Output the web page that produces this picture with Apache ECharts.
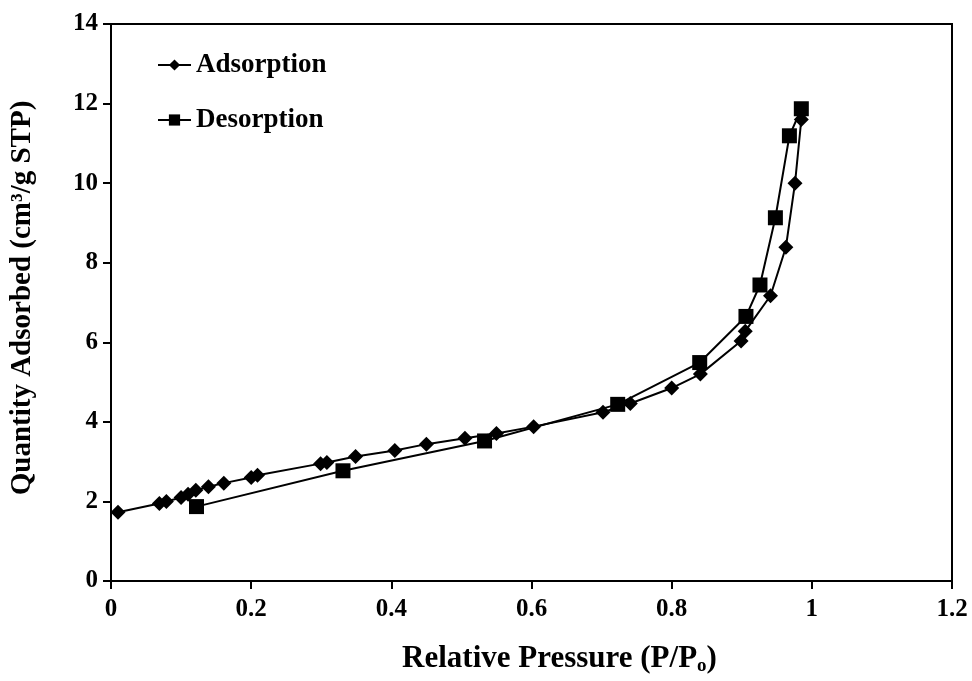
<!DOCTYPE html>
<html>
<head>
<meta charset="utf-8">
<script src="https://cdn.jsdelivr.net/npm/echarts@6/dist/echarts.min.js"></script>
<style>
  html, body { margin: 0; padding: 0; background: #ffffff; }
  #chart { width: 972px; height: 681px; }
</style>
</head>
<body>
<div id="chart"></div>
<script>
// Nitrogen isotherm: relative pressure vs. quantity adsorbed
const adsorptionP = [0.010, 0.069, 0.079, 0.100, 0.110, 0.121, 0.139, 0.161, 0.200, 0.209,
                     0.299, 0.308, 0.349, 0.405, 0.450, 0.505, 0.550, 0.603, 0.702, 0.741,
                     0.800, 0.841, 0.899, 0.905, 0.941, 0.963, 0.976, 0.985];
const adsorptionQ = [1.73, 1.95, 2.00, 2.10, 2.18, 2.28, 2.37, 2.46, 2.60, 2.66,
                     2.95, 2.98, 3.13, 3.28, 3.44, 3.59, 3.71, 3.88, 4.24, 4.46,
                     4.85, 5.20, 6.03, 6.28, 7.17, 8.39, 10.00, 11.60];

const desorptionP = [0.985, 0.968, 0.948, 0.926, 0.906, 0.840, 0.723, 0.533, 0.331, 0.122];
const desorptionQ = [11.87, 11.19, 9.13, 7.44, 6.65, 5.49, 4.44, 3.52, 2.77, 1.87];

const xTicks = { min: 0, max: 1.2, step: 0.2 };
const yTicks = { min: 0, max: 14, step: 2 };

const seriesNames = ['Adsorption', 'Desorption'];
const xTitle = 'Relative Pressure (P/P{sub|o})';
const yTitle = 'Quantity Adsorbed (cm\u00B3/g STP)';

const FONT = '"Liberation Serif", "Times New Roman", serif';
const INK = '#000000';

const pairs = (xs, ys) => xs.map((x, i) => [x, ys[i]]);

const chart = echarts.init(document.getElementById('chart'), null, { renderer: 'canvas' });

chart.setOption({
  animation: false,
  backgroundColor: '#ffffff',
  grid: {
    left: 110, right: 20, top: 24, bottom: 93,
    show: true, borderColor: INK, borderWidth: 2, backgroundColor: 'transparent'
  },
  legend: {
    orient: 'vertical',
    left: 152, top: 46,
    itemWidth: 33, itemHeight: 14, itemGap: 27,
    textStyle: { fontFamily: FONT, fontWeight: 'bold', fontSize: 27, color: INK, lineHeight: 28 },
    data: seriesNames
  },
  xAxis: {
    type: 'value',
    min: xTicks.min, max: xTicks.max, interval: xTicks.step,
    name: xTitle,
    nameLocation: 'middle',
    nameGap: 61,
    nameTextStyle: {
      fontFamily: FONT, fontWeight: 'bold', fontSize: 31, color: INK,
      padding: [0, 0, 0, 56],
      rich: { sub: { fontFamily: FONT, fontWeight: 'bold', fontSize: 19, color: INK, padding: [15, 0, 0, 0] } }
    },
    axisLine: { show: true, lineStyle: { color: INK, width: 2 } },
    axisTick: { show: true, inside: false, length: 8, lineStyle: { color: INK, width: 2 } },
    axisLabel: { fontFamily: FONT, fontWeight: 'bold', fontSize: 25, color: INK, margin: 16 },
    splitLine: { show: false }
  },
  yAxis: {
    type: 'value',
    min: yTicks.min, max: yTicks.max, interval: yTicks.step,
    name: yTitle,
    nameLocation: 'middle',
    nameRotate: 90,
    nameGap: 74,
    nameTextStyle: {
      fontFamily: FONT, fontWeight: 'bold', fontSize: 29, color: INK,
      padding: [0, 0, 0, 9]
    },
    axisLine: { show: true, lineStyle: { color: INK, width: 2 } },
    axisTick: { show: true, inside: false, length: 8, lineStyle: { color: INK, width: 2 } },
    axisLabel: { fontFamily: FONT, fontWeight: 'bold', fontSize: 25, color: INK, margin: 13 },
    splitLine: { show: false }
  },
  series: [
    {
      name: seriesNames[0],
      type: 'line',
      data: pairs(adsorptionP, adsorptionQ),
      symbol: 'diamond',
      symbolSize: 15,
      showAllSymbol: true,
      itemStyle: { color: INK },
      lineStyle: { color: INK, width: 2 },
      z: 3
    },
    {
      name: seriesNames[1],
      type: 'line',
      data: pairs(desorptionP, desorptionQ),
      symbol: 'rect',
      symbolSize: 15,
      showAllSymbol: true,
      itemStyle: { color: INK },
      lineStyle: { color: INK, width: 2 },
      z: 4
    }
  ]
});
</script>
</body>
</html>
